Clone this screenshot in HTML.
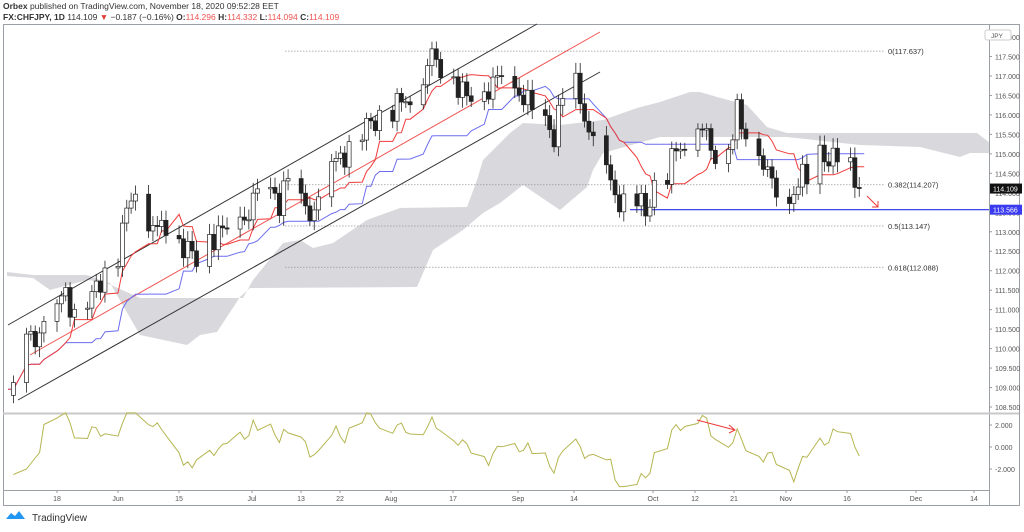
<!DOCTYPE html>
<html><head><meta charset="utf-8"><style>
body{margin:0;background:#fff;width:1024px;height:527px;overflow:hidden;font-family:"Liberation Sans",sans-serif}
svg text{font-family:"Liberation Sans",sans-serif}
</style></head><body>
<svg id="s" width="1024" height="527" xmlns="http://www.w3.org/2000/svg">
<text x="3" y="9" font-size="8.5" fill="#333"><tspan font-weight="bold">Orbex</tspan> published on TradingView.com, November 18, 2020 09:52:28 EET</text>
<text x="3" y="20" font-size="8.5" fill="#333"><tspan font-weight="bold">FX:CHFJPY, 1D</tspan> 114.109 <tspan fill="#e53935">▼</tspan> −0.187 (−0.16%) <tspan font-weight="bold">O:</tspan><tspan fill="#ef5350">114.296</tspan> <tspan font-weight="bold">H:</tspan><tspan fill="#ef5350">114.332</tspan> <tspan font-weight="bold">L:</tspan><tspan fill="#ef5350">114.094</tspan> <tspan font-weight="bold">C:</tspan><tspan fill="#ef5350">114.109</tspan></text>
<path d="M7,272 L33,275 L87,275 L100,280 L140,298 L243,298 L253,280 L283,243 L300,240 L313,248 L333,243 L367,220 L400,208 L467,207 L477,180 L483,160 L510,133 L523,123 L560,125 L603,120 L637,108 L660,102 L690,92 L700,92 L717,97 L747,105 L767,127 L787,133 L977,133 L990,143 L990,153 L970,153 L960,157 L920,147 L860,145 L787,137 L727,137 L660,137 L603,153 L593,170 L587,187 L560,210 L523,185 L500,203 L483,213 L463,230 L433,250 L417,287 L250,288 L240,297 L217,332 L200,335 L187,345 L140,335 L110,283 L87,280 L50,290 L33,278 L7,276 Z" fill="#d9d9dd"/>
<rect x="3.5" y="24.5" width="1016" height="481" fill="none" stroke="#9aa0a6"/>
<line x1="989.5" y1="24" x2="989.5" y2="505" stroke="#9aa0a6"/>
<line x1="3" y1="413.5" x2="1019" y2="413.5" stroke="#c8c8c8" stroke-width="2"/>
<line x1="3" y1="490.5" x2="989" y2="490.5" stroke="#9aa0a6"/>
<g id="g"></g>
<text x="32" y="521" font-size="10" fill="#333">TradingView</text>
<path d="M6 519 l5-6 4 3 4-5 6 8z" fill="#2196f3"/>
</svg>
<script>
const g=document.getElementById('g');let h='';
const Y=p=>37+(118-p)*38.95;
const X=d=>57+d*4.36;
const A=[[-10,109],[-7,110.2],[-5,110.3],[0,111],[2,111.5],[4,110.8],[8,111.3],[10,111.8],[14,112.5],[16,113.5],[18,114.2],[21,113.3],[23,113],[25,113.3],[28,112.8],[30,112.5],[32,112.3],[35,112.8],[37,113],[39,113],[42,113.3],[44,113.5],[46,114],[49,114],[51,113.8],[53,114.3],[56,113.7],[58,113.5],[60,113.7],[63,114.6],[65,115],[67,115],[70,115.5],[72,115.8],[74,116],[77,116.2],[79,116.3],[81,116.5],[84,117],[86,117.5],[88,117.3],[91,117],[93,116.5],[95,116.5],[98,116.6],[100,116.8],[102,117],[106,116.6],[108,116.3],[112,115.8],[114,115.5],[116,116.4],[119,116.7],[121,116],[123,115.2],[126,114.5],[128,114],[130,113.6],[133,113.8],[135,113.5],[137,114.2],[140,114.5],[142,115.1],[144,115.3],[147,115.8],[149,115.4],[151,115],[154,115.2],[156,116],[158,115.5],[161,115.1],[163,114.5],[165,114],[168,113.8],[170,114.3],[172,114.4],[175,115],[177,114.9],[179,114.8],[182,114.5],[184,114.109]];
function interp(d){for(let i=0;i<A.length-1;i++){if(d>=A[i][0]&&d<=A[i+1][0]){const t=(d-A[i][0])/(A[i+1][0]-A[i][0]);return A[i][1]+t*(A[i+1][1]-A[i][1]);}}return A[A.length-1][1];}
const bars=[];let prev=108.8;
for(let d=-10;d<=184;d++){const wd=((d%7)+7)%7;if(wd==5||wd==6)continue;
 let c=interp(d)+0.25*Math.sin(d*1.7)+0.15*Math.cos(d*2.9);if(d==184)c=114.109;
 const o=prev;const hi=Math.max(o,c)+0.12+0.15*Math.abs(Math.sin(d*3.1));const lo=Math.min(o,c)-0.12-0.15*Math.abs(Math.cos(d*2.3));
 bars.push({d,o,c,hi,lo});prev=c;}
const n=bars.length;const mid=(i,p)=>{let H=-1e9,L=1e9;for(let k=Math.max(0,i-p+1);k<=i;k++){H=Math.max(H,bars[k].hi);L=Math.min(L,bars[k].lo);}return (H+L)/2;};
const xb=i=>X(bars[i].d);
let ten=[],kij=[];for(let i=0;i<n;i++){ten.push(mid(i,9));kij.push(mid(i,26));}
[[117.637,'0(117.637)'],[114.207,'0.382(114.207)'],[113.147,'0.5(113.147)'],[112.088,'0.618(112.088)']].forEach(f=>{const y=Y(f[0]);h+=`<line x1="285" y1="${y}" x2="885" y2="${y}" stroke="#999" stroke-width="0.8" stroke-dasharray="1.5 1.5"/><text x="888" y="${y+3}" font-size="7.5" fill="#333">${f[1]}</text>`;});
h+=`<line x1="8" y1="325" x2="537" y2="24" stroke="#333" stroke-width="1"/><line x1="18" y1="400" x2="600" y2="72" stroke="#333" stroke-width="1"/><line x1="30" y1="355" x2="600" y2="32" stroke="#ef5350" stroke-width="1"/>`;
h+=`<line x1="630" y1="${Y(113.566)}" x2="989" y2="${Y(113.566)}" stroke="#2a2ee6" stroke-width="1.2"/>`;
const pl=(arr,col)=>{let s='M8 '+Y(arr[0]).toFixed(1);for(let i=0;i<n;i++){s+=' L'+xb(i).toFixed(1)+' '+Y(arr[i]).toFixed(1);}s+=' L'+(xb(n-1)+5)+' '+Y(arr[n-1]).toFixed(1);return `<path d="${s}" fill="none" stroke="${col}" stroke-width="1"/>`;};
h+=pl(kij,'#6c6cf0')+pl(ten,'#ef3a3a');
bars.forEach(b=>{const x=X(b.d);const upb=b.c>=b.o;h+=`<line x1="${x}" y1="${Y(b.hi)}" x2="${x}" y2="${Y(b.lo)}" stroke="#222" stroke-width="0.8"/>`;const t=Y(Math.max(b.o,b.c)),bt=Y(Math.min(b.o,b.c));h+=`<rect x="${x-2}" y="${t}" width="4" height="${Math.max(1,bt-t)}" fill="${upb?'#fff':'#222'}" stroke="#222" stroke-width="0.7"/>`;});
h+=`<path d="M867 196 L878 207 M872 207 L878 207 L878 201" stroke="#ef3a3a" fill="none" stroke-width="1"/>`;
let os='';for(let i=0;i<n;i++){let v=(bars[i].c-bars[Math.max(0,i-9)].c)*1.3;if(i<5)v=-2.5+i*0.5;v=Math.max(-3.6,Math.min(3.1,v));os+=(i==0?'M':' L')+xb(i).toFixed(1)+' '+(447-v*11).toFixed(1);}
h+=`<path d="${os}" fill="none" stroke="#b5b551" stroke-width="1"/>`;
h+=`<path d="M697 420 L735 430 M729 425 L735 430 L729 433" stroke="#ef3a3a" fill="none" stroke-width="1"/>`;
for(let p=108.5;p<=118.01;p+=0.5){const y=Y(p);h+=`<line x1="989" y1="${y}" x2="992" y2="${y}" stroke="#999"/><text x="995" y="${y+3}" font-size="7" fill="#555">${p.toFixed(3)}</text>`;}
[[2,'2.000'],[0,'0.000'],[-2,'-2.000']].forEach(v=>{const y=447-v[0]*11;h+=`<line x1="989" y1="${y}" x2="992" y2="${y}" stroke="#999"/><text x="995" y="${y+3}" font-size="7" fill="#555">${v[1]}</text>`;});
h+=`<rect x="985" y="30" width="26" height="10" fill="#fff" stroke="#ccc" rx="2"/><text x="991" y="38" font-size="6.5" fill="#555">JPY</text>`;
h+=`<rect x="990" y="${Y(114.109)-5}" width="32" height="10" fill="#111"/><text x="993" y="${Y(114.109)+3}" font-size="7" fill="#fff">114.109</text>`;
h+=`<rect x="990" y="${Y(113.566)-5}" width="32" height="10" fill="#3a3af0"/><text x="993" y="${Y(113.566)+3}" font-size="7" fill="#fff">113.566</text>`;
[[57,'18'],[118,'Jun'],[179,'15'],[252,'Jul'],[301,'13'],[340,'22'],[391,'Aug'],[453,'17'],[518,'Sep'],[574,'14'],[653,'Oct'],[695,'12'],[734,'21'],[786,'Nov'],[847,'16'],[916,'Dec'],[974,'14']].forEach(l=>{h+=`<line x1="${l[0]}" y1="490" x2="${l[0]}" y2="493" stroke="#999"/><text x="${l[0]}" y="501" font-size="7" fill="#555" text-anchor="middle">${l[1]}</text>`;});
g.innerHTML=h;
</script>
</body></html>
